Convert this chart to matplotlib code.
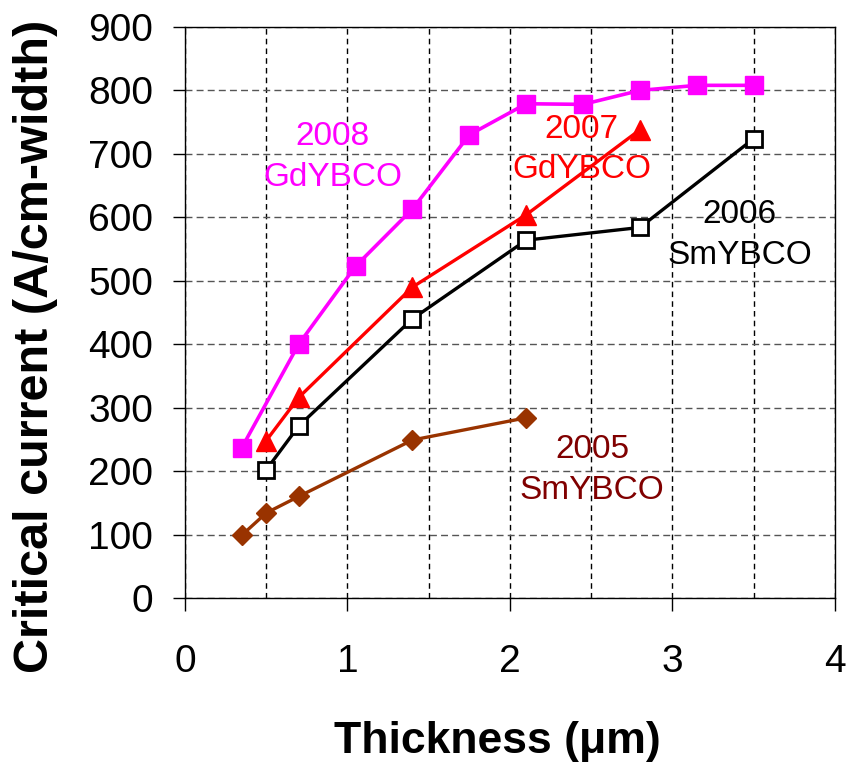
import matplotlib.pyplot as plt

plt.rcParams['font.family'] = ['Liberation Sans', 'DejaVu Sans']

## data
x2008 = [0.35, 0.7, 1.05, 1.4, 1.75, 2.1, 2.45, 2.8, 3.15, 3.5]
y2008 = [237, 400, 523, 613, 730, 779, 778, 800, 808, 808]
x2007 = [0.5, 0.7, 1.4, 2.1, 2.8]
y2007 = [248, 316, 490, 604, 738]
x2006 = [0.5, 0.7, 1.4, 2.1, 2.8, 3.5]
y2006 = [202, 271, 440, 564, 584, 724]
x2005 = [0.35, 0.5, 0.7, 1.4, 2.1]
y2005 = [99, 134, 160, 249, 284]

xticks = [0, 1, 2, 3, 4]
yticks = [0, 100, 200, 300, 400, 500, 600, 700, 800, 900]

fig = plt.figure(figsize=(8.5, 7.64), dpi=100)
ax = fig.add_axes([0.2176, 0.2173, 0.7647, 0.7474])

ax.plot(x2008, y2008, color='#FF00FF', lw=2.6, marker='s', ms=13, zorder=4)
ax.plot(x2007, y2007, color='#FF0000', lw=2.4, marker='^', ms=15, zorder=4)
ax.plot(x2006, y2006, color='black', lw=2.4, marker='s', ms=11,
        mfc='white', mec='black', mew=2, zorder=4)
ax.plot(x2005, y2005, color='#993300', lw=2.4, marker='D', ms=10, zorder=4)

# labels on the curves
ax.text(0.91, 695, '2008\nGdYBCO', color='#FF00FF', fontsize=24,
        ha='center', va='center', linespacing=1.4)
ax.text(2.44, 707, '2007\nGdYBCO', color='#FF0000', fontsize=24,
        ha='center', va='center', linespacing=1.4)
ax.text(3.415, 572, '2006\nSmYBCO', color='black', fontsize=24,
        ha='center', va='center', linespacing=1.4)
ax.text(2.505, 202, '2005\nSmYBCO', color='#800000', fontsize=24,
        ha='center', va='center', linespacing=1.4)

ax.set_xlim(0, 4)
ax.set_ylim(0, 900)
ax.set_xticks(xticks)
ax.set_yticks(yticks)
ax.set_xticks([0.5, 1.5, 2.5, 3.5], minor=True)

ax.grid(axis='x', which='both', color='black', lw=1, ls=(0, (4, 3)))
ax.grid(axis='y', which='major', color='#555555', lw=1, ls=(0, (5, 3)))

ax.tick_params(axis='x', which='major', direction='out', length=9, width=1,
               labelsize=28, pad=24)
ax.tick_params(axis='x', which='minor', length=0)
ax.tick_params(axis='y', direction='out', length=9, width=1,
               labelsize=28, pad=14)

for s in ax.spines.values():
    s.set_linewidth(1)

fig.text(0.585, 0.03, 'Thickness (\u03bcm)', fontsize=32, fontweight='bold',
         ha='center', va='center')
fig.text(0.042, 0.546, 'Critical current (A/cm-width)', fontsize=35,
         fontweight='bold', rotation=90, ha='center', va='center')

plt.savefig('out.png', dpi=100)
plt.close()
